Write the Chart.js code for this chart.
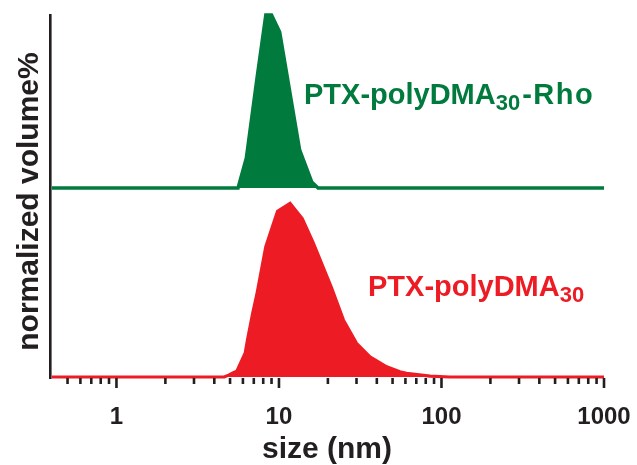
<!DOCTYPE html>
<html>
<head>
<meta charset="utf-8">
<script src="https://cdn.jsdelivr.net/npm/chart.js@4.4.1/dist/chart.umd.min.js"></script>
<style>
  html, body { margin: 0; padding: 0; background: #ffffff; }
  #c { display: block; }
</style>
</head>
<body>
<canvas id="c" width="637" height="465"></canvas>
<script>
// Size axis (nm, log scale): tick positions and the ones that carry a label
const sizeTicks = [0.5, 0.6, 0.7, 0.8, 0.9,
  1, 2, 3, 4, 5, 6, 7, 8, 9,
  10, 20, 30, 40, 50, 60, 70, 80, 90,
  100, 200, 300, 400, 500, 600, 700, 800, 900, 1000];
const labeledTicks = [1, 10, 100, 1000];

// PTX-polyDMA30 volume distribution (normalized volume %)
const redSizes   = [0.4, 4.6, 4.9, 5.2, 5.5, 6.2, 6.4, 6.9, 7.3, 8.3, 9.8, 11.7, 13.9, 16.2, 21.0, 24.9, 30.0, 36.3, 46.0, 55.5, 61.0, 85.0, 112, 1000];
const redVolumes = [0, 0, 1.0, 2.1, 3.0, 12.7, 19.6, 33.9, 43.4, 69.0, 87.6, 91.9, 83.8, 71.2, 47.5, 30.2, 17.8, 10.7, 5.4, 2.8, 2.0, 0.5, 0, 0];

// PTX-polyDMA30-Rho volume distribution (normalized volume %)
const greenSizes   = [0.4, 5.6, 6.3, 7.3, 8.3, 9.0, 10.1, 13.4, 15.9, 17.4, 1000];
const greenVolumes = [0, 0, 15.9, 57.1, 91.5, 91.5, 82.5, 20.1, 3.2, 0, 0];

// the second trace is stacked above the first by this amount
const GREEN_OFFSET = 100;

const RED = '#ed1c24';
const GREEN = '#007a3d';
const INK = '#231f20';
const FONT = '"Liberation Sans", Arial, Helvetica, sans-serif';

const redData = redSizes.map((s, i) => ({ x: s, y: redVolumes[i] }));
const greenData = greenSizes.map((s, i) => ({ x: s, y: greenVolumes[i] + GREEN_OFFSET }));

// short ticks everywhere, long ones at each decade
const tickMarks = {
  id: 'tickMarks',
  afterDraw(chart) {
    const sx = chart.scales.x;
    const ctx = chart.ctx;
    const y0 = chart.chartArea.bottom;
    ctx.save();
    ctx.strokeStyle = INK;
    ctx.lineWidth = 2.6;
    sizeTicks.forEach(v => {
      const px = sx.getPixelForValue(v);
      const len = labeledTicks.includes(v) ? 10 : 6;
      ctx.beginPath();
      ctx.moveTo(px, y0);
      ctx.lineTo(px, y0 + len);
      ctx.stroke();
    });
    ctx.restore();
  }
};

// series names with subscripts, and the rotated y-axis title
function drawLabel(ctx, x, y, parts, color) {
  ctx.fillStyle = color;
  ctx.textBaseline = 'alphabetic';
  ctx.textAlign = 'left';
  parts.forEach(p => {
    ctx.font = 'bold ' + p.size + 'px ' + FONT;
    ctx.letterSpacing = (p.spacing || 0) + 'px';
    x += p.gap || 0;
    ctx.fillText(p.text, x, y + p.dy);
    x += ctx.measureText(p.text).width;
  });
  ctx.letterSpacing = '0px';
}

const labels = {
  id: 'labels',
  afterDraw(chart) {
    const ctx = chart.ctx;
    const a = chart.chartArea;
    ctx.save();
    drawLabel(ctx, a.left + 254, a.top + 89, [
      { text: 'PTX-polyDMA', size: 29, dy: 0 },
      { text: '30', size: 22, dy: 6 },
      { text: '-Rho', size: 29, dy: 0, gap: 2, spacing: 1.5 }
    ], GREEN);
    drawLabel(ctx, a.left + 318, a.top + 281, [
      { text: 'PTX-polyDMA', size: 29, dy: 0 },
      { text: '30', size: 22, dy: 6 }
    ], RED);

    ctx.translate(28, (a.top + a.bottom) / 2 + 5);
    ctx.rotate(-Math.PI / 2);
    ctx.font = 'bold 30px ' + FONT;
    ctx.fillStyle = INK;
    ctx.textAlign = 'center';
    ctx.textBaseline = 'alphabetic';
    ctx.fillText('normalized volume%', 0, 10);
    ctx.restore();
  }
};

new Chart(document.getElementById('c'), {
  type: 'line',
  data: {
    datasets: [
      {
        data: greenData,
        borderColor: GREEN,
        backgroundColor: GREEN,
        borderWidth: 3.5,
        fill: { value: GREEN_OFFSET },
        pointRadius: 0,
        tension: 0,
        clip: false
      },
      {
        data: redData,
        borderColor: RED,
        backgroundColor: RED,
        borderWidth: 3.2,
        fill: 'origin',
        pointRadius: 0,
        tension: 0,
        clip: false
      }
    ]
  },
  options: {
    responsive: false,
    animation: false,
    events: [],
    layout: { padding: { left: 0, right: 33, top: 15, bottom: 0 } },
    plugins: { legend: { display: false }, tooltip: { enabled: false } },
    scales: {
      x: {
        type: 'logarithmic',
        min: 0.39,
        max: 1000,
        afterBuildTicks(scale) {
          scale.ticks = sizeTicks.map(v => ({ value: v, major: labeledTicks.includes(v) }));
        },
        afterFit(scale) {
          scale.height = 87;
          scale.paddingLeft = 0;
          scale.paddingRight = 0;
        },
        grid: { display: false },
        border: { display: false },
        ticks: {
          autoSkip: false,
          maxRotation: 0,
          padding: 17,
          color: INK,
          font: { family: FONT, size: 24, weight: 'bold' },
          callback: (v) => labeledTicks.includes(v) ? String(v) : ''
        },
        title: {
          display: true,
          text: 'size (nm)',
          color: INK,
          padding: { top: 0, bottom: 0 },
          font: { family: FONT, size: 30, weight: 'bold', lineHeight: 1 }
        }
      },
      y: {
        min: -0.53,
        max: 191.5,
        afterFit(scale) { scale.width = 50; },
        grid: { display: false },
        border: { display: true, color: INK, width: 2.6 },
        ticks: { display: false }
      }
    }
  },
  plugins: [tickMarks, labels]
});
</script>
</body>
</html>
